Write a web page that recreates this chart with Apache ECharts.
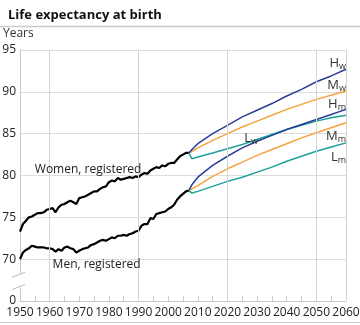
<!DOCTYPE html>
<html><head><meta charset="utf-8">
<script src="https://cdn.jsdelivr.net/npm/echarts@6/dist/echarts.min.js"></script>
<style>html,body{margin:0;padding:0;background:#fff}#c{width:360px;height:325px}</style>
</head><body><div id="c"></div>
<script>
const title = 'Life expectancy at birth';
const yUnit = 'Years';
const regYears = [];
for (let y = 1950; y <= 2007; y++) regYears.push(y);
const womenReg = [73.3,74.2,74.6,75.0,75.1,75.3,75.5,75.5,75.6,75.9,76.0,76.1,75.6,76.2,76.5,76.6,76.8,77.0,76.8,76.6,77.3,77.4,77.5,77.7,77.9,78.1,78.1,78.4,78.6,78.7,79.2,79.4,79.3,79.7,79.5,79.6,79.7,79.8,79.7,79.9,79.8,80.1,80.3,80.2,80.6,80.8,81.0,80.9,81.2,81.1,81.4,81.5,81.5,81.9,82.3,82.5,82.7,82.7];
const menReg = [70.0,70.8,71.1,71.3,71.6,71.5,71.4,71.4,71.4,71.3,71.3,71.2,70.9,71.2,71.0,71.4,71.5,71.3,71.2,70.8,71.0,71.2,71.3,71.4,71.7,71.8,72.0,72.2,72.3,72.2,72.4,72.6,72.5,72.8,72.8,72.9,72.8,73.0,73.1,73.3,73.4,74.0,74.2,74.2,74.9,74.8,75.4,75.5,75.6,75.7,76.0,76.2,76.5,77.1,77.5,77.8,78.1,78.2];
const projYears = [2007,2008,2010,2015,2020,2025,2030,2035,2040,2045,2050,2055,2060];
const Hw = [82.7,83.1,83.8,85.0,86.0,87.0,87.8,88.6,89.5,90.3,91.2,91.9,92.7];
const Mw = [82.7,82.9,83.3,84.2,85.0,85.8,86.5,87.2,87.9,88.5,89.1,89.6,90.1];
const Lw = [82.7,82.0,82.2,82.7,83.2,83.7,84.3,84.9,85.5,86.0,86.5,86.9,87.2];
const Hm = [78.2,78.9,79.8,81.2,82.3,83.3,84.1,84.8,85.5,86.1,86.7,87.3,87.9];
const Mm = [78.2,78.4,78.8,79.9,80.8,81.6,82.4,83.1,83.8,84.5,85.1,85.7,86.3];
const Lm = [78.2,77.9,78.1,78.7,79.3,79.8,80.4,81.0,81.7,82.3,82.9,83.4,83.9];
const yTicks = [65,70,75,80,85,90,95];
const yTickLabels = ['0','70','75','80','85','90','95'];
const vGridYears = [1960,1990,2020,2050,2060];
// labels: [main, sub, year, value]
const seriesLabels = [
  ['H','w',2060,93.4],['M','w',2060,90.8],['H','m',2060,88.5],
  ['L','w',2028,84.4],['M','m',2060,84.7],['L','m',2060,82.2]
];
const regLabels = [['Women, registered',1955,80.7],['Men, registered',1961,69.4]];

const FONT = '"Open Sans", "Noto Sans", sans-serif';
const BLUE = '#2b3f95', ORANGE = '#f7a23e', TEAL = '#1ba09c';
const zip = (xs, ys) => xs.map((x, i) => [x, ys[i]]);
const line = (name, xs, ys, color, w) => ({
  name, type: 'line', data: zip(xs, ys), showSymbol: false, symbol: 'none',
  smooth: false, lineStyle: { color, width: w }, z: 3, silent: true
});

const chart = echarts.init(document.getElementById('c'), null, { renderer: 'canvas' });
const series = [
  {
    type: 'line', data: [], silent: true, z: 1,
    markLine: {
      silent: true, symbol: 'none', animation: false,
      lineStyle: { color: '#d4d4d4', width: 1, type: 'solid' },
      label: { show: false },
      data: vGridYears.map(v => ({ xAxis: v }))
    }
  },
  line('Women, registered', regYears, womenReg, '#000', 2.2),
  line('Men, registered', regYears, menReg, '#000', 2.2),
  line('Lw', projYears, Lw, TEAL, 1.5),
  line('Lm', projYears, Lm, TEAL, 1.5),
  line('Mw', projYears, Mw, ORANGE, 1.5),
  line('Mm', projYears, Mm, ORANGE, 1.5),
  line('Hw', projYears, Hw, BLUE, 1.5),
  line('Hm', projYears, Hm, BLUE, 1.5),
  {
    type: 'scatter', data: [], silent: true, z: 5,
    markPoint: {
      silent: true, symbol: 'circle', symbolSize: 0, animation: false,
      data: seriesLabels.map(l => ({
        coord: [l[2], l[3]],
        label: {
          show: true, position: 'inside', align: l[2] === 2060 ? 'right' : 'center', verticalAlign: 'middle',
          formatter: '{a|' + l[0] + '}{b|' + l[1] + '}',
          rich: {
            a: { fontSize: 13, color: '#333', fontFamily: FONT, verticalAlign: 'bottom' },
            b: { fontSize: 9, color: '#333', fontFamily: FONT, verticalAlign: 'bottom', padding: [0,0,-1,0] }
          }
        }
      })).concat(regLabels.map(l => ({
        coord: [l[1], l[2]],
        label: {
          show: true, position: 'inside', align: 'left', verticalAlign: 'middle',
          formatter: l[0], fontSize: 12, color: '#222', fontFamily: FONT
        }
      })))
    }
  }
];

chart.setOption({
  animation: false,
  backgroundColor: '#fff',
  textStyle: { fontFamily: FONT },
  title: {
    text: title, left: 3, top: 4,
    textStyle: { fontSize: 13, fontWeight: 'bold', color: '#111', fontFamily: FONT }
  },
  grid: { left: 20, right: 14, top: 50, bottom: 24, containLabel: false, outerBoundsMode: 'none' },
  xAxis: {
    type: 'value', min: 1950, max: 2060, interval: 5,
    axisLine: { show: true, lineStyle: { color: '#c8c8c8', width: 1 } },
    axisTick: { show: true, inside: true, length: 5, lineStyle: { color: '#c8c8c8' } },
    axisLabel: {
      fontSize: 12, color: '#222', margin: 6, fontFamily: FONT, showMinLabel: true, showMaxLabel: true,
      formatter: v => (v % 10 === 0 ? String(v) : '')
    },
    splitLine: { show: false }
  },
  yAxis: {
    type: 'value', min: yTicks[0], max: yTicks[yTicks.length - 1], interval: 5,
    axisLine: { show: true, lineStyle: { color: '#c8c8c8', width: 1 } },
    axisTick: { show: false },
    axisLabel: {
      fontSize: 12, color: '#222', margin: 4, fontFamily: FONT,
      formatter: v => { const i = yTicks.indexOf(v); return i >= 0 ? yTickLabels[i] : ''; }
    },
    splitLine: { show: true, lineStyle: { color: '#dedede', width: 1 } }
  },
  series
});

// decorations: header/footer rules, "Years", axis break
const p = v => chart.convertToPixel({ gridIndex: 0 }, v);
const a = p([1950, 66.6]), b = p([1950, 68.2]);
const ax = a[0];
chart.setOption({
  graphic: [
    { type: 'line', shape: { x1: 0, y1: 26.5, x2: 360, y2: 26.5 }, style: { stroke: '#cccccc', lineWidth: 1.5 }, silent: true },
    { type: 'line', shape: { x1: 0, y1: 322.5, x2: 360, y2: 322.5 }, style: { stroke: '#cccccc', lineWidth: 1 }, silent: true },
    { type: 'text', left: 3, top: 28, style: { text: yUnit, font: '12px ' + FONT, fill: '#333' }, silent: true },
    { type: 'rect', shape: { x: ax - 2, y: b[1], width: 4, height: a[1] - b[1] }, style: { fill: '#fff' }, z: 10, silent: true },
    { type: 'line', shape: { x1: ax - 8, y1: b[1] + 3, x2: ax + 5, y2: b[1] - 2 }, style: { stroke: '#bbbbbb', lineWidth: 1 }, z: 11, silent: true },
    { type: 'line', shape: { x1: ax - 8, y1: a[1] + 2, x2: ax + 5, y2: a[1] - 3 }, style: { stroke: '#bbbbbb', lineWidth: 1 }, z: 11, silent: true }
  ]
});
</script></body></html>
